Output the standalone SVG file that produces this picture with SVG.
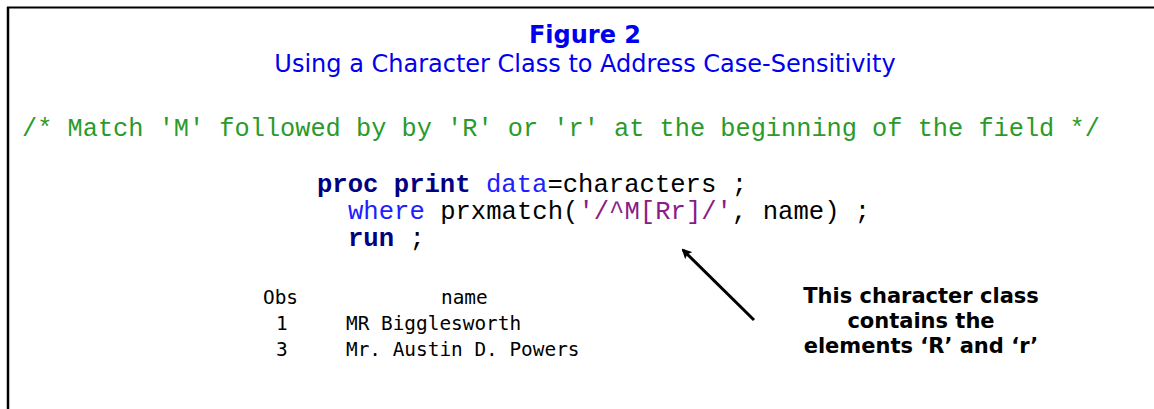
<svg xmlns="http://www.w3.org/2000/svg" width="1154" height="409" viewBox="0 0 1154 409">
<style>
.title{font-family:"DejaVu Sans",Verdana,sans-serif;fill:#0000ee;text-anchor:middle}
.code{font-family:"Liberation Mono","Courier New",monospace;font-size:25.6px}
.cmt{fill:#2a9a2a;font-size:25.3px}
.kw{fill:#000080;font-weight:bold}
.blue{fill:#2020ff}
.str{fill:#8b1a8b}
.plain{fill:#000}
.out{font-family:"DejaVu Sans Mono",monospace;font-size:19.4px;fill:#000}
.note{font-family:"DejaVu Sans",Verdana,sans-serif;font-weight:bold;font-size:21px;fill:#000;text-anchor:middle}
</style>
<defs>
<marker id="ah" markerWidth="10" markerHeight="10" refX="8" refY="5" orient="auto" markerUnits="userSpaceOnUse">
<path d="M0,0 L10,5 L0,10 L2,5 Z" fill="#000"/>
</marker>
</defs>
<rect width="1154" height="409" fill="#fff"/>
<g id="frame">
<line x1="7" y1="7.5" x2="1154" y2="7.5" stroke="#000" stroke-width="2"/>
<line x1="8" y1="7" x2="8" y2="409" stroke="#000" stroke-width="2.5"/>
</g>
<g id="title">
<text class="title" x="585" y="43" font-size="24" font-weight="bold">Figure 2</text>
<text class="title" x="585" y="72" font-size="24">Using a Character Class to Address Case-Sensitivity</text>
</g>
<g id="comment">
<text class="code cmt" x="22" y="136" xml:space="preserve">/* Match 'M' followed by by 'R' or 'r' at the beginning of the field */</text>
</g>
<g id="code">
<text class="code" x="317" y="192" xml:space="preserve"><tspan class="kw">proc print</tspan><tspan class="plain"> </tspan><tspan class="blue">data</tspan><tspan class="plain">=characters ;</tspan></text>
<text class="code" x="348" y="219" xml:space="preserve"><tspan class="blue">where</tspan><tspan class="plain"> prxmatch(</tspan><tspan class="str">'/^M[Rr]/'</tspan><tspan class="plain">, name) ;</tspan></text>
<text class="code" x="348" y="246" xml:space="preserve"><tspan class="kw">run</tspan><tspan class="plain"> ;</tspan></text>
</g>
<g id="output">
<text class="out" x="263" y="304">Obs</text>
<text class="out" x="441" y="304">name</text>
<text class="out" x="276" y="330">1</text>
<text class="out" x="346" y="330">MR Bigglesworth</text>
<text class="out" x="276" y="356">3</text>
<text class="out" x="346" y="356">Mr. Austin D. Powers</text>
</g>
<g id="note">
<text class="note" x="921" y="303">This character class</text>
<text class="note" x="921" y="328">contains the</text>
<text class="note" x="921" y="353">elements ‘R’ and ‘r’</text>
</g>
<g id="connectors">
<line x1="754" y1="320" x2="683" y2="250" stroke="#000" stroke-width="3" marker-end="url(#ah)"/>
</g>
</svg>
